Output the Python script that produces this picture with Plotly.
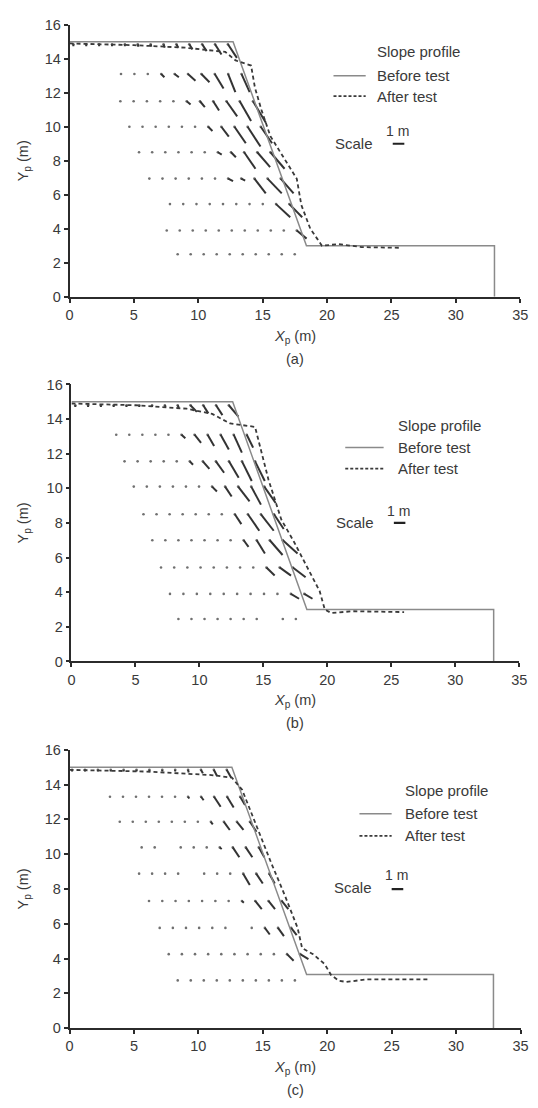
import plotly.graph_objects as go

# ---------------- data ----------------
X_TICKS = [0, 5, 10, 15, 20, 25, 30, 35]
Y_TICKS = [0, 2, 4, 6, 8, 10, 12, 14, 16]
PANEL_LABELS = ["(a)", "(b)", "(c)"]

# slope profiles (before test: solid, after test: dashed)
BEFORE_A_X = [0, 12.7, 18.4, 33.0, 33.0]
BEFORE_A_Y = [15.0, 15.0, 3.0, 3.0, 0.0]
AFTER_A_X = [0, 5, 9, 12.1, 12.9, 14.1, 14.4, 14.9, 15.6, 17.65, 18.0, 18.7, 19.2, 19.6, 20.9, 22.7, 25.7]
AFTER_A_Y = [14.9, 14.8, 14.65, 14.4, 13.9, 13.6, 12.3, 11.0, 9.45, 6.94, 5.4, 4.0, 3.45, 3.0, 3.1, 2.92, 2.88]

BEFORE_B_X = [0, 12.6, 18.4, 33.0, 33.0]
BEFORE_B_Y = [15.0, 15.0, 3.0, 3.0, 0.0]
AFTER_B_X = [0, 5, 9, 11, 12.4, 13.5, 14.35, 15.4, 16.4, 17.4, 18.7, 19.4, 19.8, 20.3, 22, 26]
AFTER_B_Y = [14.9, 14.8, 14.6, 14.3, 13.75, 13.65, 13.55, 10.5, 8.2, 6.9, 5.0, 4.06, 3.0, 2.8, 2.9, 2.85]

BEFORE_C_X = [0, 12.6, 18.4, 32.9, 32.9]
BEFORE_C_Y = [15.0, 15.0, 3.08, 3.08, 0.0]
AFTER_C_X = [0, 6, 11, 12.6, 13.4, 14.4, 15.65, 16.7, 17.7, 18.05, 18.9, 19.8, 20.3, 20.9, 21.5, 23, 27.8]
AFTER_C_Y = [14.85, 14.75, 14.55, 14.4, 13.7, 11.8, 9.5, 7.65, 5.76, 4.6, 4.25, 3.68, 3.05, 2.72, 2.65, 2.8, 2.8]

# displacement-vector grid rows: (row elevation, first x, grid step)
# and the displacement of each gauge point (m); None = no gauge reading
ROWS_A_Y = [14.85, 13.1, 11.5, 10.0, 8.5, 6.95, 5.45, 3.9, 2.5]
ROWS_A_X0 = [0.3, 4.0, 3.95, 4.65, 5.4, 6.2, 7.8, 7.55, 8.4]
ROWS_A_STEP = [1.0, 1.04, 1.03, 1.02, 1.02, 1.02, 1.03, 1.01, 1.01]
DX_A = [
    [0, 0, 0, 0, 0, 0.05, 0.05, 0.1, 0.15, 0.25, 0.35, 0.5, 0.7],
    [0, 0, 0, 0.25, 0.33, 0.58, 0.63, 0.68, 0.56, 0.63],
    [0, 0, 0, 0, 0, 0.3, 0.38, 0.45, 0.83, 0.88, 1.0],
    [0, 0, 0, 0, 0, 0, 0.33, 0.58, 0.88, 1.0, 0.88],
    [0, 0, 0, 0, 0, 0, 0.3, 0.38, 0.88, 1.0, 1.1],
    [0, 0, 0, 0, 0, 0, 0.38, 0.3, 0.88, 1.1, 1.0],
    [0, 0, 0, 0, 0, 0, 0, 0, 1.1, 1.0],
    [0, 0, 0, 0, 0, 0, 0, 0, 0, 0, 0.76],
    [0, 0, 0, 0, 0, 0, 0, 0, 0, 0],
]
DY_A = [
    [-0.12, -0.12, -0.12, -0.12, -0.12, -0.15, -0.15, -0.2, -0.2, -0.3, -0.4, -0.6, -0.8],
    [0, 0, 0, -0.19, -0.19, -0.39, -0.48, -0.85, -1.06, -1.06],
    [0, 0, 0, 0, 0, -0.19, -0.35, -0.54, -0.89, -1.16, -1.26],
    [0, 0, 0, 0, 0, 0, -0.25, -0.58, -0.97, -1.16, -0.97],
    [0, 0, 0, 0, 0, 0, -0.14, -0.29, -0.97, -0.87, -0.97],
    [0, 0, 0, 0, 0, 0, -0.15, -0.12, -0.87, -0.87, -0.87],
    [0, 0, 0, 0, 0, 0, 0, 0, -0.77, -0.77],
    [0, 0, 0, 0, 0, 0, 0, 0, 0, 0, -0.48],
    [0, 0, 0, 0, 0, 0, 0, 0, 0, 0],
]

ROWS_B_Y = [14.8, 13.1, 11.56, 10.1, 8.5, 7.0, 5.43, 3.9, 2.45]
ROWS_B_X0 = [0.3, 3.5, 4.15, 4.87, 5.63, 6.32, 7.0, 7.7, 8.36]
ROWS_B_STEP = [1.0, 1.02, 1.02, 1.02, 1.02, 1.02, 1.03, 1.05, 1.02]
DX_B = [
    [0, 0, 0, 0, 0, 0, 0, 0.05, 0.1, 0.5, 0.4, 0.5, 0.75],
    [0, 0, 0, 0, 0, 0.3, 0.51, 0.51, 0.64, 0.64, 0.5],
    [0, 0, 0, 0, 0, 0.25, 0.51, 0.64, 0.76, 0.76, 0.76],
    [0, 0, 0, 0, 0, 0, 0.38, 0.51, 0.89, 0.76, 0.89],
    [0, 0, 0, 0, 0, 0, 0, 0.51, 0.89, 1.0, 0.76],
    [0, 0, 0, 0, 0, 0, 0, 0.38, 0.64, 1.0, 1.15],
    [0, 0, 0, 0, 0, 0, 0, 0, 0.64, 0.89, 1.0],
    [0, 0, 0, 0, 0, 0, 0, 0, 0, 0.64, 0.64],
    [0, 0, 0, 0, 0, 0, 0, None, 0, 0],
]
DY_B = [
    [-0.1, -0.1, -0.1, -0.1, -0.1, -0.1, -0.1, -0.1, -0.15, -0.38, -0.47, -0.57, -0.66],
    [0, 0, 0, 0, 0, -0.2, -0.47, -0.66, -0.85, -1.04, -0.75],
    [0, 0, 0, 0, 0, -0.2, -0.44, -0.66, -0.95, -1.14, -1.14],
    [0, 0, 0, 0, 0, 0, -0.28, -0.57, -0.85, -1.04, -0.95],
    [0, 0, 0, 0, 0, 0, 0, -0.57, -0.95, -0.95, -0.85],
    [0, 0, 0, 0, 0, 0, 0, -0.38, -0.76, -0.85, -0.76],
    [0, 0, 0, 0, 0, 0, 0, 0, -0.47, -0.47, -0.57],
    [0, 0, 0, 0, 0, 0, 0, 0, 0, -0.28, -0.28],
    [0, 0, 0, 0, 0, 0, 0, None, 0, 0],
]

ROWS_C_Y = [14.85, 13.3, 11.86, 10.39, 8.88, 7.31, 5.76, 4.25, 2.74]
ROWS_C_X0 = [0.2, 3.14, 3.9, 5.6, 5.4, 6.17, 7.0, 7.7, 8.4]
ROWS_C_STEP = [1.0, 1.01, 1.01, 1.01, 1.01, 1.03, 1.02, 1.02, 1.01]
DX_C = [
    [0, 0, 0, 0, 0, 0, 0, 0, 0, 0.05, 0.15, 0.25, 0.35],
    [0, 0, 0, 0, 0, 0, 0.1, 0.2, 0.51, 0.51, 0.38],
    [0, 0, 0, 0, 0, 0, 0, 0.15, 0.46, 0.51, 0.51],
    [0, 0, None, 0, 0, 0, 0.15, 0.51, 0.51, 0.43],
    [0, 0, 0, 0, None, 0, 0, 0, 0.51, 0.51, 0.43],
    [0, 0, 0, 0, 0, 0, 0, 0.15, 0.51, 0.51, 0.51],
    [0, 0, 0, 0, 0, 0, None, 0, 0.38, 0.46, 0.43],
    [0, 0, 0, 0, 0, 0, 0, 0, 0, 0.51, 0.64],
    [0, 0, 0, 0, 0, 0, 0, 0, 0, 0],
]
DY_C = [
    [-0.1, -0.1, -0.1, -0.1, -0.1, -0.1, -0.1, -0.1, -0.1, -0.15, -0.2, -0.35, -0.45],
    [0, 0, 0, 0, 0, 0, -0.1, -0.2, -0.57, -0.62, -0.47],
    [0, 0, 0, 0, 0, 0, 0, -0.15, -0.47, -0.47, -0.57],
    [0, 0, None, 0, 0, 0, -0.1, -0.57, -0.57, -0.57],
    [0, 0, 0, 0, None, 0, 0, 0, -0.66, -0.57, -0.57],
    [0, 0, 0, 0, 0, 0, 0, -0.1, -0.47, -0.47, -0.47],
    [0, 0, 0, 0, 0, 0, None, 0, -0.38, -0.47, -0.42],
    [0, 0, 0, 0, 0, 0, 0, 0, 0, -0.38, -0.28],
    [0, 0, 0, 0, 0, 0, 0, 0, 0, 0],
]

VECTOR_SCALE = 1.0  # plot metres per metre of displacement
SCALE_BAR_M = 0.9   # length of the drawn "1 m" scale bar in plot units

# ---------------- layout helpers ----------------
W, H = 538, 1108
# pixel boxes of the three plot areas: (left, right, top, bottom)
BOXES = [(67, 528, 17, 293), (69, 527, 382, 663), (67, 528.3, 752.7, 1035)]

# legend placement (data coords)
LEG = [
    dict(text_x=23.7, sp_y=14.4, bt_y=13.0, at_y=11.8, line_x0=20.5, line_x1=23.0,
         sc_x=23.7, sc_y=9.0, bar_x0=25.1, bar_y=9.0, m_x=25.5, m_y=9.75),
    dict(text_x=25.4, sp_y=13.65, bt_y=12.36, at_y=11.14, line_x0=21.4, line_x1=24.4,
         sc_x=23.8, sc_y=8.05, bar_x0=25.2, bar_y=8.0, m_x=25.6, m_y=8.7),
    dict(text_x=25.9, sp_y=13.64, bt_y=12.33, at_y=11.05, line_x0=22.5, line_x1=25.0,
         sc_x=23.6, sc_y=8.06, bar_x0=25.0, bar_y=7.99, m_x=25.4, m_y=8.78),
]

FONT = "Liberation Sans, Arial, sans-serif"
TXT = "#3a3a3a"
AX = "#2b2b2b"

panels = [
    (BEFORE_A_X, BEFORE_A_Y, AFTER_A_X, AFTER_A_Y, ROWS_A_Y, ROWS_A_X0, ROWS_A_STEP, DX_A, DY_A),
    (BEFORE_B_X, BEFORE_B_Y, AFTER_B_X, AFTER_B_Y, ROWS_B_Y, ROWS_B_X0, ROWS_B_STEP, DX_B, DY_B),
    (BEFORE_C_X, BEFORE_C_Y, AFTER_C_X, AFTER_C_Y, ROWS_C_Y, ROWS_C_X0, ROWS_C_STEP, DX_C, DY_C),
]

fig = go.Figure()
layout = dict(
    width=W, height=H, margin=dict(l=0, r=0, t=0, b=0),
    paper_bgcolor="white", plot_bgcolor="white", showlegend=False,
    font=dict(family=FONT, size=14, color=TXT),
)
annotations = []
shapes = []

for i, (bx, by, ax_, ay_, ry, rx0, rstep, dxs, dys) in enumerate(panels):
    n = "" if i == 0 else str(i + 1)
    xa, ya = "x" + n, "y" + n
    l, r, t, b = BOXES[i]
    layout["xaxis" + n] = dict(
        domain=[l / W, r / W], range=[0, 35], anchor=ya, tickvals=X_TICKS,
        showline=True, linecolor=AX, linewidth=1.6, ticks="outside", ticklen=4,
        tickwidth=1.6, tickcolor=AX, showgrid=False, zeroline=False,
        tickfont=dict(family=FONT, size=14.5, color=TXT),
    )
    layout["yaxis" + n] = dict(
        domain=[1 - b / H, 1 - t / H], range=[0, 16], anchor=xa, tickvals=Y_TICKS,
        showline=True, linecolor=AX, linewidth=1.6, ticks="outside", ticklen=4,
        tickwidth=1.6, tickcolor=AX, showgrid=False, zeroline=False,
        tickfont=dict(family=FONT, size=14.5, color=TXT),
    )

    # vectors
    vx, vy, px, py = [], [], [], []
    for y0, x0, st, dxr, dyr in zip(ry, rx0, rstep, dxs, dys):
        for k, (dx, dy) in enumerate(zip(dxr, dyr)):
            if dx is None:
                continue
            xs = x0 + k * st
            px.append(xs)
            py.append(y0)
            if dx != 0 or dy != 0:
                vx += [xs, xs + dx * VECTOR_SCALE, None]
                vy += [y0, y0 + dy * VECTOR_SCALE, None]
    fig.add_trace(go.Scatter(x=px, y=py, mode="markers", xaxis=xa, yaxis=ya,
                             marker=dict(size=2.6, color="#707070"), hoverinfo="skip"))
    fig.add_trace(go.Scatter(x=vx, y=vy, mode="lines", xaxis=xa, yaxis=ya,
                             line=dict(color="#333333", width=2.0), hoverinfo="skip"))

    # profiles
    fig.add_trace(go.Scatter(x=bx, y=by, mode="lines", xaxis=xa, yaxis=ya,
                             line=dict(color="#8a8a8a", width=1.5), hoverinfo="skip"))
    fig.add_trace(go.Scatter(x=ax_, y=ay_, mode="lines", xaxis=xa, yaxis=ya,
                             line=dict(color="#3a3a3a", width=1.8, dash="4px,3px"),
                             hoverinfo="skip"))

    # legend-like annotations
    g = LEG[i]
    annotations += [
        dict(x=g["text_x"], y=g["sp_y"], xref=xa, yref=ya, text="Slope profile",
             showarrow=False, xanchor="left", yanchor="middle", font=dict(size=15)),
        dict(x=g["text_x"], y=g["bt_y"], xref=xa, yref=ya, text="Before test",
             showarrow=False, xanchor="left", yanchor="middle", font=dict(size=15)),
        dict(x=g["text_x"], y=g["at_y"], xref=xa, yref=ya, text="After test",
             showarrow=False, xanchor="left", yanchor="middle", font=dict(size=15)),
        dict(x=g["sc_x"], y=g["sc_y"], xref=xa, yref=ya, text="Scale",
             showarrow=False, xanchor="right", yanchor="middle", font=dict(size=15)),
        dict(x=g["m_x"], y=g["m_y"], xref=xa, yref=ya, text="1 m",
             showarrow=False, xanchor="center", yanchor="middle", font=dict(size=14)),
        dict(x=17.5, y=0, xref=xa, yref=ya + " domain", yshift=-40, text="<i>X</i><sub>p</sub> (m)",
             showarrow=False, xanchor="center", yanchor="middle", font=dict(size=14.5)),
        dict(x=17.5, y=0, xref=xa, yref=ya + " domain", yshift=-62, text=PANEL_LABELS[i],
             showarrow=False, xanchor="center", yanchor="middle", font=dict(size=14.5)),
        dict(x=20 / W, y=0.5, xref="paper", yref=ya + " domain", text="Y<sub>p</sub> (m)",
             textangle=-90, showarrow=False, xanchor="center", yanchor="middle",
             font=dict(size=14.5)),
    ]
    shapes += [
        dict(type="line", xref=xa, yref=ya, x0=g["line_x0"], x1=g["line_x1"],
             y0=g["bt_y"], y1=g["bt_y"], line=dict(color="#8a8a8a", width=1.5)),
        dict(type="line", xref=xa, yref=ya, x0=g["line_x0"], x1=g["line_x1"],
             y0=g["at_y"], y1=g["at_y"], line=dict(color="#3a3a3a", width=1.8, dash="3px,2px")),
        dict(type="line", xref=xa, yref=ya, x0=g["bar_x0"], x1=g["bar_x0"] + SCALE_BAR_M,
             y0=g["bar_y"], y1=g["bar_y"], line=dict(color="#222222", width=2.2)),
    ]

layout["annotations"] = annotations
layout["shapes"] = shapes
fig.update_layout(**layout)
fig.write_html(
    "out.html",
    config={"responsive": False, "displayModeBar": False},
    post_script="document.body.style.margin='0';document.body.style.padding='0';"
                "document.documentElement.style.overflow='hidden';",
)
